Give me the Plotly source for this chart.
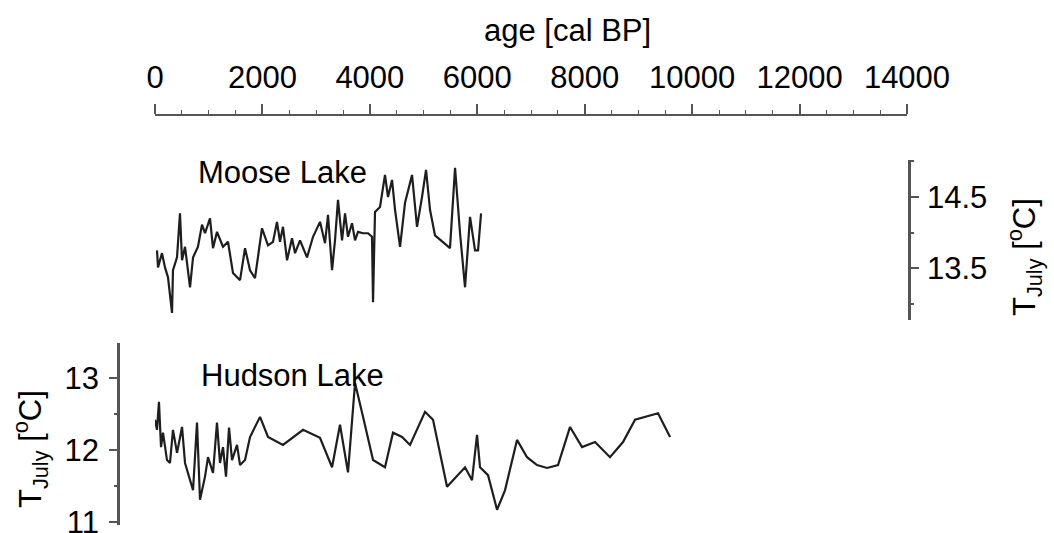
import plotly.graph_objects as go

# ---- data ----
moose_age = [37, 56, 130, 186, 242, 317, 335, 410, 465, 503, 559, 652, 708, 800, 875, 931,
             1024, 1080, 1154, 1210, 1266, 1359, 1452, 1583, 1676, 1769, 1862, 1992, 2104,
             2197, 2271, 2327, 2383, 2458, 2551, 2607, 2700, 2830, 2942, 3072, 3165, 3221,
             3296, 3351, 3407, 3482, 3538, 3593, 3668, 3724, 3780, 3873, 3966, 4040, 4059,
             4096, 4189, 4282, 4338, 4413, 4469, 4562, 4655, 4785, 4878, 4971, 5046, 5120,
             5213, 5492, 5586, 5679, 5772, 5865, 5958, 6014, 6070]
moose_temp = [13.75, 13.51, 13.71, 13.51, 13.37, 12.87, 13.47, 13.65, 14.27, 13.61, 13.80,
              13.23, 13.65, 13.80, 14.11, 13.99, 14.20, 13.78, 14.01, 13.89, 13.80, 13.87,
              13.43, 13.33, 13.78, 13.47, 13.36, 14.06, 13.82, 13.87, 14.15, 13.87, 14.08,
              13.61, 13.92, 13.71, 13.89, 13.65, 13.94, 14.15, 13.85, 14.25, 13.47, 13.89,
              14.46, 13.89, 14.27, 13.94, 14.13, 13.89, 14.01, 13.99, 13.99, 13.94, 13.02,
              14.29, 14.36, 14.81, 14.50, 14.74, 14.32, 13.80, 14.42, 14.81, 14.08, 14.50,
              14.88, 14.32, 13.96, 13.78, 14.91, 13.99, 13.23, 14.22, 13.75, 13.75, 14.27]

hudson_age = [0, 37, 74, 112, 149, 223, 279, 335, 410, 503, 559, 614, 708, 782, 838, 931,
              987, 1080, 1154, 1210, 1266, 1322, 1378, 1434, 1527, 1583, 1676, 1769, 1955,
              2104, 2383, 2756, 3072, 3296, 3444, 3593, 3724, 3873, 4059, 4282, 4431, 4599,
              4748, 5027, 5176, 5437, 5772, 5902, 5995, 6051, 6200, 6368, 6516, 6740, 6926,
              7112, 7298, 7503, 7727, 7950, 8192, 8471, 8713, 8937, 9365, 9589]
hudson_temp = [12.42, 12.28, 12.67, 12.04, 12.24, 11.86, 11.82, 12.28, 11.96, 12.32, 11.82,
               11.68, 11.44, 12.38, 11.31, 11.63, 11.90, 11.68, 12.38, 11.82, 12.04, 11.63,
               12.31, 11.86, 12.07, 11.79, 11.86, 12.18, 12.46, 12.18, 12.07, 12.28, 12.17,
               11.76, 12.35, 11.69, 12.93, 12.46, 11.86, 11.76, 12.24, 12.18, 12.07, 12.53,
               12.42, 11.49, 11.76, 11.58, 12.21, 11.76, 11.65, 11.17, 11.44, 12.14, 11.90,
               11.79, 11.75, 11.79, 12.32, 12.04, 12.11, 11.90, 12.11, 12.42, 12.51, 12.18]

age_ticks = [0, 2000, 4000, 6000, 8000, 10000, 12000, 14000]
age_labels = ['0', '2000', '4000', '6000', '8000', '10000', '12000', '14000']
moose_ticks = [13.5, 14.5]
moose_labels = ['13.5', '14.5']
moose_minor = [13.0, 14.0, 15.0]
hudson_ticks = [11, 12, 13]
hudson_labels = ['11', '12', '13']
hudson_minor = [11.5, 12.5]

W, H = 1054, 533


def px(x):
    return x / W


def py(y):
    return 1 - y / H


AX = '#555555'
TXT = '#000000'
LINE = dict(color='#1e1e1e', width=2.2)

fig = go.Figure()
fig.add_trace(go.Scatter(x=moose_age, y=moose_temp, mode='lines', line=LINE,
                         xaxis='x', yaxis='y', showlegend=False, hoverinfo='skip'))
fig.add_trace(go.Scatter(x=hudson_age, y=hudson_temp, mode='lines', line=LINE,
                         xaxis='x', yaxis='y2', showlegend=False, hoverinfo='skip'))

fig.update_layout(
    width=W, height=H, autosize=False,
    margin=dict(l=0, r=0, t=0, b=0, pad=0),
    paper_bgcolor='white', plot_bgcolor='rgba(0,0,0,0)',
    font=dict(family='Arial, Liberation Sans, sans-serif', size=31, color=TXT),
    xaxis=dict(
        domain=[px(155), px(907)], range=[0, 14000],
        side='top', anchor='free', position=py(115), automargin=False,
        tickmode='array', tickvals=age_ticks, ticktext=age_labels,
        ticks='outside', ticklen=10,
        tickwidth=1.5, tickcolor=AX, showline=True, linecolor=AX, linewidth=2,
        showgrid=False, zeroline=False, ticklabelstandoff=4, ticklabeloverflow='allow',
        minor=dict(dtick=500, tick0=0, ticks='outside', ticklen=4, tickcolor=AX,
                   tickwidth=1.2, showgrid=False),
    ),
    yaxis=dict(
        domain=[py(320), py(160)], range=[12.77, 15.02],
        side='right', anchor='free', position=px(909), automargin=False,
        tickmode='array', tickvals=moose_ticks, ticktext=moose_labels,
        ticks='outside', ticklen=8, tickwidth=1.5, tickcolor=AX,
        showline=True, linecolor=AX, linewidth=2.5, showgrid=False, zeroline=False,
        ticklabelstandoff=2, ticklabeloverflow='allow',
        minor=dict(tickmode='array', tickvals=moose_minor, ticks='outside', ticklen=3,
                   tickcolor=AX, showgrid=False),
    ),
    yaxis2=dict(
        domain=[py(525), py(343)], range=[10.958, 13.486],
        side='left', anchor='free', position=px(118), automargin=False,
        tickmode='array', tickvals=hudson_ticks, ticktext=hudson_labels,
        ticks='outside', ticklen=8, tickwidth=1.5, tickcolor=AX,
        showline=True, linecolor=AX, linewidth=2.5, showgrid=False, zeroline=False,
        ticklabelstandoff=4, ticklabeloverflow='allow',
        minor=dict(tickmode='array', tickvals=hudson_minor, ticks='outside', ticklen=3,
                   tickcolor=AX, showgrid=False),
    ),
)

ann = dict(xref='paper', yref='paper', showarrow=False, font=dict(size=31, color=TXT))
fig.add_annotation(text='age [cal BP]', x=px(567), y=py(30), xanchor='center', yanchor='middle', **ann)
fig.add_annotation(text='Moose Lake', x=px(282), y=py(172), xanchor='center', yanchor='middle', **ann)
fig.add_annotation(text='Hudson Lake', x=px(292), y=py(375), xanchor='center', yanchor='middle', **ann)
fig.add_annotation(text='T<sub>July</sub> [<sup>o</sup>C]', x=px(1024), y=py(257), textangle=-90,
                   xanchor='center', yanchor='middle', **ann)
fig.add_annotation(text='T<sub>July</sub> [<sup>o</sup>C]', x=px(30), y=py(449), textangle=-90,
                   xanchor='center', yanchor='middle', **ann)

fig.write_html(
    'out.html',
    config={'responsive': False, 'displayModeBar': False},
    post_script="document.body.style.margin='0';document.body.style.overflow='hidden';",
)
